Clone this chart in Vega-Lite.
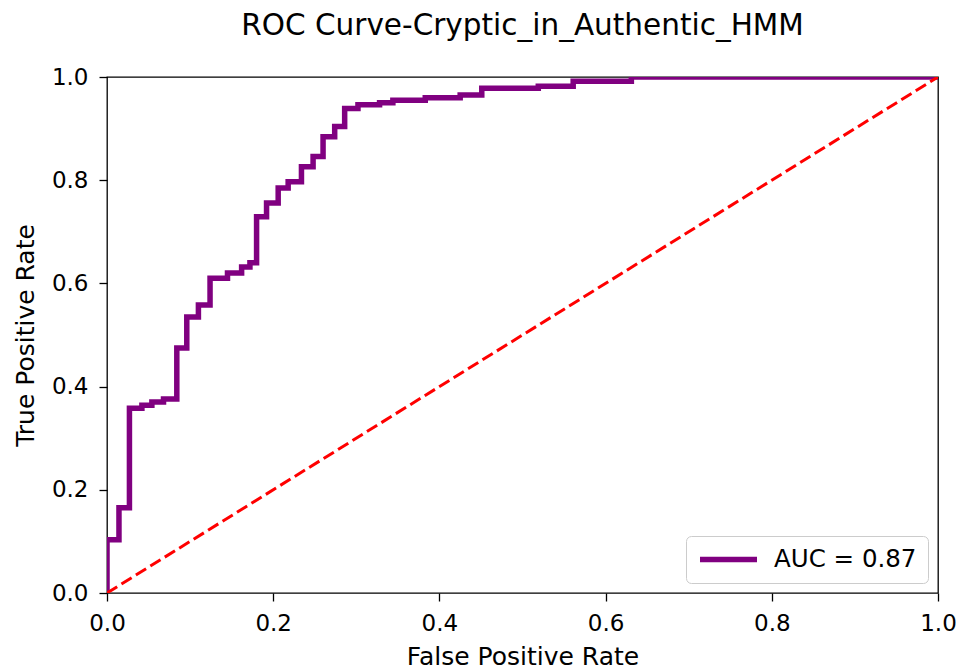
{
  "$schema": "https://vega.github.io/schema/vega-lite/v6.json",
  "autosize": {"type": "none"},
  "width": 831,
  "height": 516,
  "padding": {"left": 107, "top": 77, "right": 20, "bottom": 78},
  "background": "white",
  "title": {
    "text": "ROC Curve-Cryptic_in_Authentic_HMM",
    "font": "DejaVu Sans",
    "fontSize": 29.5,
    "fontWeight": "normal",
    "color": "#000000",
    "anchor": "middle",
    "frame": "group",
    "baseline": "alphabetic",
    "offset": 2
  },
  "datasets": {
    "roc": [
      {"i": 0, "fpr": 0.0, "tpr": 0.0, "series": "AUC = 0.87"},
      {"i": 1, "fpr": 0.0, "tpr": 0.103, "series": "AUC = 0.87"},
      {"i": 2, "fpr": 0.0144, "tpr": 0.103, "series": "AUC = 0.87"},
      {"i": 3, "fpr": 0.0144, "tpr": 0.165, "series": "AUC = 0.87"},
      {"i": 4, "fpr": 0.027, "tpr": 0.165, "series": "AUC = 0.87"},
      {"i": 5, "fpr": 0.027, "tpr": 0.358, "series": "AUC = 0.87"},
      {"i": 6, "fpr": 0.042, "tpr": 0.358, "series": "AUC = 0.87"},
      {"i": 7, "fpr": 0.042, "tpr": 0.364, "series": "AUC = 0.87"},
      {"i": 8, "fpr": 0.054, "tpr": 0.364, "series": "AUC = 0.87"},
      {"i": 9, "fpr": 0.054, "tpr": 0.37, "series": "AUC = 0.87"},
      {"i": 10, "fpr": 0.068, "tpr": 0.37, "series": "AUC = 0.87"},
      {"i": 11, "fpr": 0.068, "tpr": 0.376, "series": "AUC = 0.87"},
      {"i": 12, "fpr": 0.084, "tpr": 0.376, "series": "AUC = 0.87"},
      {"i": 13, "fpr": 0.084, "tpr": 0.475, "series": "AUC = 0.87"},
      {"i": 14, "fpr": 0.096, "tpr": 0.475, "series": "AUC = 0.87"},
      {"i": 15, "fpr": 0.096, "tpr": 0.535, "series": "AUC = 0.87"},
      {"i": 16, "fpr": 0.11, "tpr": 0.535, "series": "AUC = 0.87"},
      {"i": 17, "fpr": 0.11, "tpr": 0.558, "series": "AUC = 0.87"},
      {"i": 18, "fpr": 0.124, "tpr": 0.558, "series": "AUC = 0.87"},
      {"i": 19, "fpr": 0.124, "tpr": 0.61, "series": "AUC = 0.87"},
      {"i": 20, "fpr": 0.145, "tpr": 0.61, "series": "AUC = 0.87"},
      {"i": 21, "fpr": 0.145, "tpr": 0.62, "series": "AUC = 0.87"},
      {"i": 22, "fpr": 0.162, "tpr": 0.62, "series": "AUC = 0.87"},
      {"i": 23, "fpr": 0.162, "tpr": 0.632, "series": "AUC = 0.87"},
      {"i": 24, "fpr": 0.172, "tpr": 0.632, "series": "AUC = 0.87"},
      {"i": 25, "fpr": 0.172, "tpr": 0.64, "series": "AUC = 0.87"},
      {"i": 26, "fpr": 0.18, "tpr": 0.64, "series": "AUC = 0.87"},
      {"i": 27, "fpr": 0.18, "tpr": 0.729, "series": "AUC = 0.87"},
      {"i": 28, "fpr": 0.192, "tpr": 0.729, "series": "AUC = 0.87"},
      {"i": 29, "fpr": 0.192, "tpr": 0.756, "series": "AUC = 0.87"},
      {"i": 30, "fpr": 0.206, "tpr": 0.756, "series": "AUC = 0.87"},
      {"i": 31, "fpr": 0.206, "tpr": 0.785, "series": "AUC = 0.87"},
      {"i": 32, "fpr": 0.218, "tpr": 0.785, "series": "AUC = 0.87"},
      {"i": 33, "fpr": 0.218, "tpr": 0.797, "series": "AUC = 0.87"},
      {"i": 34, "fpr": 0.234, "tpr": 0.797, "series": "AUC = 0.87"},
      {"i": 35, "fpr": 0.234, "tpr": 0.826, "series": "AUC = 0.87"},
      {"i": 36, "fpr": 0.248, "tpr": 0.826, "series": "AUC = 0.87"},
      {"i": 37, "fpr": 0.248, "tpr": 0.846, "series": "AUC = 0.87"},
      {"i": 38, "fpr": 0.26, "tpr": 0.846, "series": "AUC = 0.87"},
      {"i": 39, "fpr": 0.26, "tpr": 0.884, "series": "AUC = 0.87"},
      {"i": 40, "fpr": 0.274, "tpr": 0.884, "series": "AUC = 0.87"},
      {"i": 41, "fpr": 0.274, "tpr": 0.904, "series": "AUC = 0.87"},
      {"i": 42, "fpr": 0.286, "tpr": 0.904, "series": "AUC = 0.87"},
      {"i": 43, "fpr": 0.286, "tpr": 0.939, "series": "AUC = 0.87"},
      {"i": 44, "fpr": 0.302, "tpr": 0.939, "series": "AUC = 0.87"},
      {"i": 45, "fpr": 0.302, "tpr": 0.946, "series": "AUC = 0.87"},
      {"i": 46, "fpr": 0.328, "tpr": 0.946, "series": "AUC = 0.87"},
      {"i": 47, "fpr": 0.328, "tpr": 0.95, "series": "AUC = 0.87"},
      {"i": 48, "fpr": 0.344, "tpr": 0.95, "series": "AUC = 0.87"},
      {"i": 49, "fpr": 0.344, "tpr": 0.955, "series": "AUC = 0.87"},
      {"i": 50, "fpr": 0.383, "tpr": 0.955, "series": "AUC = 0.87"},
      {"i": 51, "fpr": 0.383, "tpr": 0.96, "series": "AUC = 0.87"},
      {"i": 52, "fpr": 0.425, "tpr": 0.96, "series": "AUC = 0.87"},
      {"i": 53, "fpr": 0.425, "tpr": 0.965, "series": "AUC = 0.87"},
      {"i": 54, "fpr": 0.451, "tpr": 0.965, "series": "AUC = 0.87"},
      {"i": 55, "fpr": 0.451, "tpr": 0.978, "series": "AUC = 0.87"},
      {"i": 56, "fpr": 0.519, "tpr": 0.978, "series": "AUC = 0.87"},
      {"i": 57, "fpr": 0.519, "tpr": 0.982, "series": "AUC = 0.87"},
      {"i": 58, "fpr": 0.561, "tpr": 0.982, "series": "AUC = 0.87"},
      {"i": 59, "fpr": 0.561, "tpr": 0.992, "series": "AUC = 0.87"},
      {"i": 60, "fpr": 0.631, "tpr": 0.992, "series": "AUC = 0.87"},
      {"i": 61, "fpr": 0.631, "tpr": 1.0, "series": "AUC = 0.87"},
      {"i": 62, "fpr": 1.0, "tpr": 1.0, "series": "AUC = 0.87"}
    ],
    "diag": [
      {"i": 0, "fpr": 0.0, "tpr": 0.0},
      {"i": 1, "fpr": 1.0, "tpr": 1.0}
    ]
  },
  "layer": [
    {
      "data": {"name": "roc"},
      "mark": {"type": "line", "strokeWidth": 5.5, "strokeJoin": "miter", "strokeCap": "butt", "clip": true},
      "encoding": {
        "x": {"field": "fpr", "type": "quantitative", "scale": {"domain": [0, 1], "nice": false, "zero": false}, "title": "False Positive Rate", "axis": {"values": [0, 0.2, 0.4, 0.6, 0.8, 1.0], "format": ".1f", "titlePadding": 9}},
        "y": {"field": "tpr", "type": "quantitative", "scale": {"domain": [0, 1], "nice": false, "zero": false}, "title": "True Positive Rate", "axis": {"values": [0, 0.2, 0.4, 0.6, 0.8, 1.0], "format": ".1f", "titlePadding": 13}},
        "order": {"field": "i", "type": "quantitative"},
        "color": {
          "field": "series",
          "type": "nominal",
          "scale": {"domain": ["AUC = 0.87"], "range": ["#800080"]},
          "legend": {
            "title": null,
            "orient": "bottom-right",
            "offset": 10,
            "symbolType": "stroke",
            "symbolSize": 3249,
            "symbolStrokeWidth": 5.5,
            "clipHeight": 25,
            "labelFont": "DejaVu Sans",
            "labelFontSize": 24.5,
            "labelColor": "#000000",
            "labelOffset": 14,
            "padding": 11,
            "strokeColor": "#cccccc",
            "fillColor": "white",
            "cornerRadius": 5
          }
        }
      }
    },
    {
      "data": {"name": "diag"},
      "mark": {"type": "line", "color": "#ff0000", "strokeWidth": 3, "strokeDash": [12, 5], "clip": true},
      "encoding": {
        "x": {"field": "fpr", "type": "quantitative"},
        "y": {"field": "tpr", "type": "quantitative"},
        "order": {"field": "i", "type": "quantitative"}
      }
    }
  ],
  "config": {
    "view": {"stroke": "#000000", "strokeWidth": 1.3},
    "axis": {
      "grid": false,
      "domain": false,
      "ticks": true,
      "tickSize": 8,
      "tickWidth": 1.3,
      "tickColor": "#000000",
      "labelFont": "DejaVu Sans",
      "labelFontSize": 23,
      "labelColor": "#000000",
      "labelPadding": 11,
      "labelFlush": false,
      "labelOverlap": false,
      "titleFont": "DejaVu Sans",
      "titleFontSize": 25,
      "titleFontWeight": "normal",
      "titleColor": "#000000"
    }
  }
}
